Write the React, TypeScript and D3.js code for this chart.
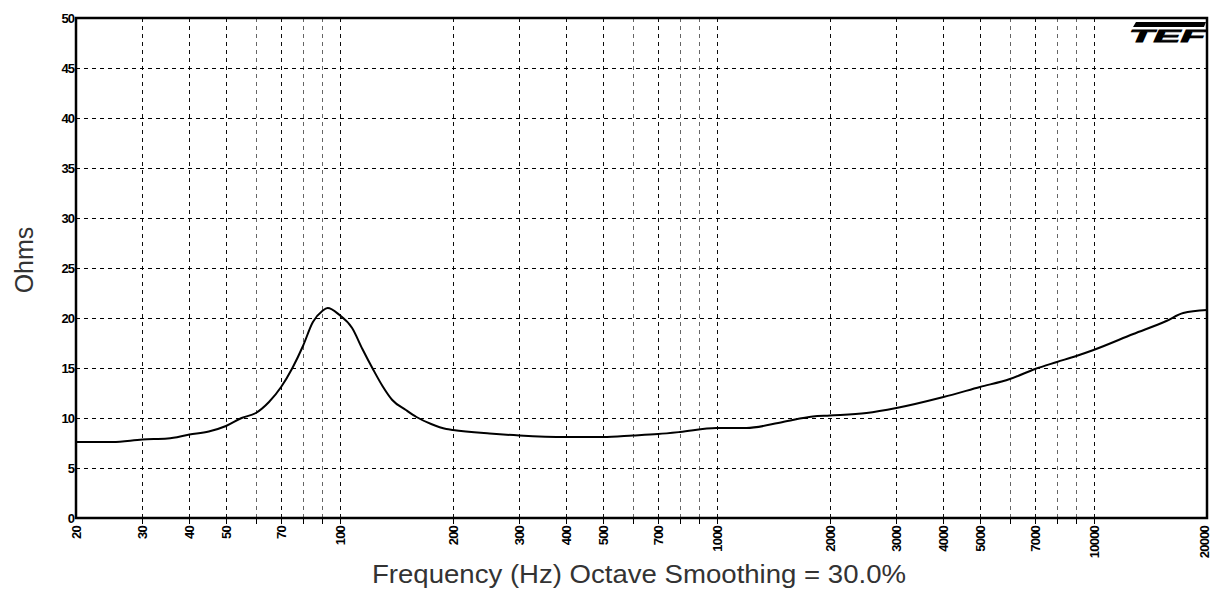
import React, { useEffect, useRef } from 'react';
import * as d3 from 'd3';

// impedance curve
const freqs = [20, 25, 30, 35, 40, 45, 50, 55, 60, 65, 70, 75, 80, 85, 90, 93, 100, 108, 115, 123, 130, 138, 150, 160, 175, 192, 200, 250, 300, 400, 500, 600, 700, 800, 1000, 1200, 1500, 1800, 2000, 2500, 3000, 4000, 5000, 6000, 7000, 8000, 9000, 10000, 12750, 15600, 17300, 20000];
const ohms = [7.6, 7.6, 7.85, 7.95, 8.35, 8.65, 9.2, 10.0, 10.5, 11.6, 13.1, 15.0, 17.2, 19.6, 20.7, 21.0, 20.3, 19.0, 16.9, 14.8, 13.2, 11.8, 10.8, 10.1, 9.4, 8.9, 8.8, 8.45, 8.25, 8.1, 8.1, 8.25, 8.4, 8.6, 9.0, 9.0, 9.6, 10.15, 10.25, 10.5, 11.0, 12.1, 13.1, 13.9, 14.9, 15.6, 16.2, 16.8, 18.4, 19.7, 20.5, 20.8];

const xTickLabels = [20, 30, 40, 50, 70, 100, 200, 300, 400, 500, 700, 1000, 2000, 3000, 4000, 5000, 7000, 10000, 20000];
const yTicks = [0, 5, 10, 15, 20, 25, 30, 35, 40, 45, 50];

const W = 1212, H = 591;
const left = 76, right = 1207, top = 18, bottom = 518;
const tickFont = 'Liberation Sans, Arial, sans-serif';

const App: React.FC = () => {
  const svgRef = useRef<SVGSVGElement | null>(null);

  useEffect(() => {
    if (!svgRef.current) return;
    const svg = d3.select(svgRef.current);
    svg.selectAll('*').remove();

    const x = d3.scaleLog().domain([20, 20000]).range([left, right]);
    const y = d3.scaleLinear().domain([0, 50]).range([bottom, top]);

    const grid = svg.append('g').attr('stroke', '#000').attr('stroke-width', 1).attr('stroke-dasharray', '4,4');

    // horizontal grid
    grid.selectAll('line.h').data(yTicks.slice(1, -1)).enter().append('line')
      .attr('x1', left).attr('x2', right)
      .attr('y1', d => y(d) + 0.5).attr('y2', d => y(d) + 0.5);

    // vertical grid, every 1..9 multiple
    const vt = x.ticks().filter(d => d > 20 && d < 20000);
    grid.selectAll('line.v').data(vt).enter().append('line')
      .attr('x1', d => Math.round(x(d)) + 0.5).attr('x2', d => Math.round(x(d)) + 0.5)
      .attr('y1', top).attr('y2', bottom)
      .attr('stroke-opacity', d => (xTickLabels.includes(d) ? 0.95 : 0.6));

    // small tick marks below axis
    svg.append('g').selectAll('line').data(vt).enter().append('line')
      .attr('x1', d => Math.round(x(d)) + 0.5).attr('x2', d => Math.round(x(d)) + 0.5)
      .attr('y1', bottom).attr('y2', bottom + 6)
      .attr('stroke', '#000').attr('stroke-width', 1);

    // frame
    svg.append('rect')
      .attr('x', left).attr('y', top).attr('width', right - left).attr('height', bottom - top)
      .attr('fill', 'none').attr('stroke', '#000').attr('stroke-width', 2.5);

    // y labels
    svg.append('g').selectAll('text').data(yTicks).enter().append('text')
      .attr('x', left - 2).attr('y', d => y(d) + 5)
      .attr('text-anchor', 'end')
      .attr('font-family', tickFont)
      .attr('font-weight', 'bold').attr('font-size', 13).attr('letter-spacing', -1)
      .text(d => d);

    // x labels rotated (last one nudged in so it stays on the page)
    svg.append('g').selectAll('text').data(xTickLabels).enter().append('text')
      .attr('transform', d => `translate(${Math.min(x(d) + 5, W - 3)},${bottom + 8}) rotate(-90)`)
      .attr('text-anchor', 'end')
      .attr('font-family', tickFont)
      .attr('font-weight', 'bold').attr('font-size', 13).attr('letter-spacing', -0.8)
      .text(d => d);

    // curve
    const pts = freqs.map((f, i) => [f, ohms[i]] as [number, number]);
    const line = d3.line<[number, number]>().x(d => x(d[0])).y(d => y(d[1])).curve(d3.curveMonotoneX);
    svg.append('path').attr('d', line(pts)).attr('fill', 'none').attr('stroke', '#000').attr('stroke-width', 2);

    // axis titles
    svg.append('text')
      .attr('transform', `translate(33,260) rotate(-90)`)
      .attr('text-anchor', 'middle')
      .attr('font-family', 'Liberation Sans, Arial, sans-serif')
      .attr('font-size', 25).attr('fill', '#333')
      .text('Ohms');
    svg.append('text')
      .attr('x', 639).attr('y', 583)
      .attr('text-anchor', 'middle')
      .attr('font-family', 'Liberation Sans, Arial, sans-serif')
      .attr('font-size', 26).attr('fill', '#333')
      .attr('textLength', 534).attr('lengthAdjust', 'spacingAndGlyphs')
      .text('Frequency (Hz) Octave Smoothing = 30.0%');

    // TEF logo
    const logo = svg.append('g');
    logo.append('polygon').attr('points', '1136,22 1206,22 1204,27 1133,27').attr('fill', '#000');
    logo.append('text')
      .attr('x', 1129).attr('y', 42)
      .attr('font-family', 'Liberation Sans, Arial, sans-serif')
      .attr('font-weight', 'bold').attr('font-style', 'italic')
      .attr('font-size', 17)
      .attr('stroke', '#000').attr('stroke-width', 0.8)
      .attr('textLength', 76).attr('lengthAdjust', 'spacingAndGlyphs')
      .text('TEF');
  }, []);

  return (
    <svg ref={svgRef} width={W} height={H} style={{ position: 'absolute', left: 0, top: 0, background: '#fff' }} />
  );
};

export default App;
